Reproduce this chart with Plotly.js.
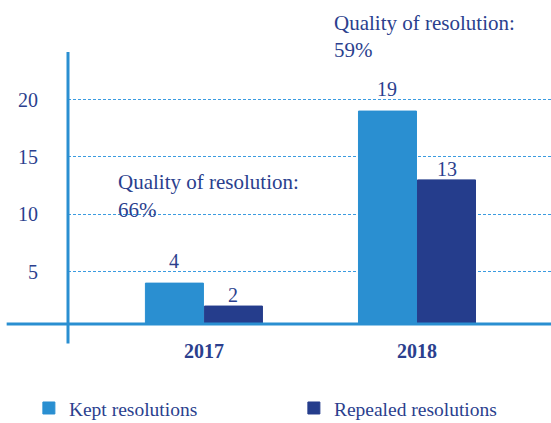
<!DOCTYPE html>
<html>
<head>
<meta charset="utf-8">
<script src="https://cdn.plot.ly/plotly-3.0.1.min.js"></script>
<style>html,body{margin:0;padding:0;background:#fff;}#chart{width:551px;height:423px;}
#chart text, #chart tspan {font-family: 'Liberation Serif', 'Times New Roman', serif !important;}</style>
</head>
<body>
<div id="chart"></div>
<script>
const years = ['2017', '2018'];
const kept = [4, 19];
const repealed = [2, 13];
const quality = [66, 59];
const seriesNames = ['Kept resolutions', 'Repealed resolutions'];
const yTicks = [5, 10, 15, 20];

const FONT = 'Liberation Serif';
const FS = 20;
const NAVY = '#2b3f8e';
const LIGHT = '#2a8fd1';
const DARK = '#253d8c';
const xIdx = years.map((_, i) => i);

const bargap = 0.446;
const half = (1 - bargap) / 4;

const traces = [
  {type: 'bar', name: seriesNames[0], x: xIdx, y: kept,
   marker: {color: LIGHT, line: {color: LIGHT, width: 1}}},
  {type: 'bar', name: seriesNames[1], x: xIdx, y: repealed,
   marker: {color: DARK, line: {color: DARK, width: 1}}}
];

const annotations = [];
kept.forEach((v, i) => annotations.push({x: i - half, y: v, xref: 'x', yref: 'y', text: String(v),
  showarrow: false, yanchor: 'middle', yshift: 22, font: {family: FONT, size: FS, color: NAVY}}));
repealed.forEach((v, i) => annotations.push({x: i + half, y: v, xref: 'x', yref: 'y', text: String(v),
  showarrow: false, yanchor: 'middle', yshift: 11, font: {family: FONT, size: FS, color: NAVY}}));

const qPos = [{x: -0.413, y1: 0.522, y2: 0.419}, {x: 0.60, y1: 1.107, y2: 1.007}];
quality.forEach((q, i) => {
  annotations.push({x: qPos[i].x, y: qPos[i].y1, xref: 'x', yref: 'paper', text: 'Quality of resolution:',
    showarrow: false, xanchor: 'left', yanchor: 'middle', font: {family: FONT, size: 21, color: NAVY}});
  annotations.push({x: qPos[i].x, y: qPos[i].y2, xref: 'x', yref: 'paper', text: q + '%',
    showarrow: false, xanchor: 'left', yanchor: 'middle', font: {family: FONT, size: 21, color: NAVY}});
});

const layout = {
  width: 551, height: 423,
  margin: {l: 68, r: 0, t: 52, b: 99, autoexpand: false},
  paper_bgcolor: '#fff', plot_bgcolor: '#fff',
  barmode: 'group', bargap: bargap, bargroupgap: 0.017,
  showlegend: true,
  legend: {orientation: 'h', x: -0.081, xanchor: 'left', y: -0.31, yanchor: 'middle',
    font: {family: FONT, size: 19.5, color: NAVY}, entrywidth: 220, entrywidthmode: 'pixels',
    bgcolor: 'rgba(0,0,0,0)', borderwidth: 0, tracegroupgap: 0},
  xaxis: {range: [-0.638, 1.629], tickvals: xIdx, ticktext: years.map(y => '<b>' + y + '</b>'),
    showgrid: false, zeroline: false, showline: false, ticks: 'outside', ticklen: 9,
    tickcolor: 'rgba(0,0,0,0)', tickfont: {family: FONT, size: FS, color: NAVY}, automargin: false, fixedrange: true},
  yaxis: {range: [0.436, 24.15], tickvals: yTicks, showgrid: true, gridcolor: '#3b9be0', gridwidth: 1,
    griddash: '3px,2px', zeroline: false, showline: false, ticks: 'outside', ticklen: 25,
    tickcolor: 'rgba(0,0,0,0)', tickfont: {family: FONT, size: FS, color: NAVY}, automargin: false, fixedrange: true},
  annotations: annotations,
  shapes: [
    {type: 'line', xref: 'paper', yref: 'paper', x0: 0, x1: 0, y0: 1, y1: -0.072, line: {color: LIGHT, width: 3}},
    {type: 'line', xref: 'paper', yref: 'paper', x0: -0.127, x1: 1, y0: 0, y1: 0, line: {color: LIGHT, width: 3}}
  ]
};

Plotly.newPlot('chart', traces, layout, {displayModeBar: false, staticPlot: true});
</script>
</body>
</html>
